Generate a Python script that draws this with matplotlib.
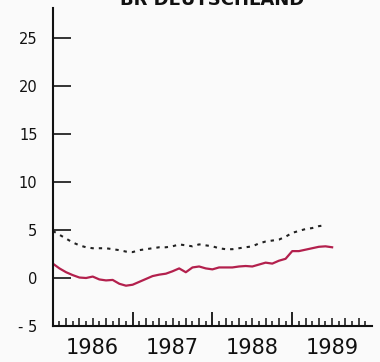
import numpy as np
import matplotlib
matplotlib.use("Agg")
import matplotlib.pyplot as plt
from matplotlib.ticker import FixedLocator, NullFormatter

# monthly values from Jan 1986
red_vals = [1.5, 1.0, 0.6, 0.3, 0.05, 0.0, 0.15, -0.15, -0.25, -0.2, -0.6, -0.8,
            -0.7, -0.4, -0.1, 0.2, 0.35, 0.45, 0.7, 1.0, 0.6, 1.1, 1.2, 1.0,
            0.9, 1.1, 1.1, 1.1, 1.2, 1.25, 1.2, 1.4, 1.6, 1.5, 1.8, 2.0,
            2.8, 2.8, 2.95, 3.1, 3.25, 3.3, 3.2]
dot_vals = [4.9, 4.5, 4.1, 3.7, 3.4, 3.2, 3.1, 3.1, 3.1, 3.0, 2.9, 2.75,
            2.7, 2.9, 3.0, 3.1, 3.2, 3.2, 3.3, 3.5, 3.4, 3.3, 3.5, 3.4,
            3.3, 3.1, 3.0, 3.0, 3.1, 3.2, 3.3, 3.6, 3.8, 3.9, 4.0, 4.3,
            4.7, 4.9, 5.1, 5.2, 5.4, 5.5]
years = [1986, 1987, 1988, 1989]
ytick_vals = [-5, 0, 5, 10, 15, 20, 25]
ytick_labels = ["- 5", "0", "5", "10", "15", "20", "25"]

x_red = 1986 + np.arange(len(red_vals)) / 12
x_dot = 1986 + np.arange(len(dot_vals)) / 12

fig = plt.figure(figsize=(3.8, 3.62), dpi=100)
fig.patch.set_facecolor("#fafafa")
ax = fig.add_axes([0.139, 0.0994, 0.84, 0.878])
ax.set_facecolor("#fafafa")

ax.plot(x_dot, dot_vals, color="#222222", lw=1.5, linestyle=(0, (1.6, 2.4)))
ax.plot(x_red, red_vals, color="#b3204d", lw=1.6)

ax.set_xlim(1986, 1990)
ax.set_ylim(-5, 28.1)
for s in ["top", "right"]:
    ax.spines[s].set_visible(False)
for s in ["left", "bottom"]:
    ax.spines[s].set_linewidth(1.5)
    ax.spines[s].set_color("#111111")

ax.set_yticks(ytick_vals)
ax.set_yticklabels(ytick_labels, fontsize=10.5, color="#111111")
ax.tick_params(axis="y", direction="in", length=13, width=1.2, pad=11, color="#111111")

# x ticks: year boundaries, long/short monthly ticks
ax.xaxis.set_major_locator(FixedLocator([1987, 1988, 1989]))
ax.xaxis.set_major_formatter(NullFormatter())
ax.tick_params(axis="x", which="major", direction="in", length=10, width=1.3, color="#111111")
long_m = [y + m / 12 for y in years for m in range(2, 12, 2)]
short_m = [y + m / 12 for y in years for m in range(1, 12, 2)]
for pos, ln in [(long_m, 6), (short_m, 3.5)]:
    ax.vlines(pos, -5, -5 + ln / 9.6 / 0.72, color="#111111", lw=1.1, clip_on=False)
for y in years:
    ax.text(y + 0.5, -6.2, str(y), ha="center", va="top", fontsize=15, color="#111111")

fig.text(0.557, 0.986, "BR DEUTSCHLAND", ha="center", va="baseline",
         fontsize=13, fontweight="bold", color="#111111")

fig.savefig("out.png", dpi=100, facecolor=fig.get_facecolor())
